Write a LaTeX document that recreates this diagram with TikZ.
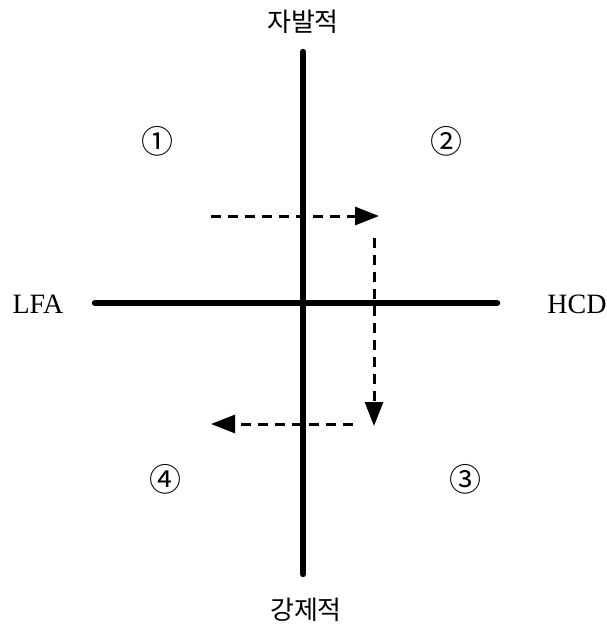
\documentclass[tikz,border=0pt]{standalone}
\usepackage{fontspec}
\setmainfont{Liberation Serif}
\newfontfamily\krfont{Noto Sans CJK KR}
\usetikzlibrary{arrows.meta}
\begin{document}
\begin{tikzpicture}[x=1pt,y=-1pt,
  axis/.style={line width=6.5pt,line cap=round},
  flow/.style={line width=3pt,dash pattern=on 10pt off 7pt,-{Triangle[length=24pt,width=18pt]}},
  lbl/.style={font=\fontsize{28}{30}\selectfont},
  kr/.style={font=\krfont\fontsize{26}{28}\selectfont},
  num/.style={font=\krfont\fontsize{32}{34}\selectfont}]
\useasboundingbox (0,0) rectangle (607,632);
\coordinate (vt) at (303,52);
\coordinate (vb) at (303,574);
\coordinate (hl) at (95,303);
\coordinate (hr) at (497,303);
\draw[axis] (vt) -- (vb);
\draw[axis] (hl) -- (hr);
\node[kr] (top) at (303,22) {자발적};
\node[kr] (bot) at (306,610) {강제적};
\node[lbl] (lfa) at (38,304) {LFA};
\node[lbl] (hcd) at (577,304) {HCD};
\node[num] (q1) at (157,141) {①};
\node[num] (q2) at (446,141) {②};
\node[num] (q3) at (465,479) {③};
\node[num] (q4) at (165,479) {④};
\coordinate (a1) at (211,216);
\coordinate (a2) at (379,216);
\coordinate (b1) at (374,238);
\coordinate (b2) at (374,426);
\coordinate (c1) at (353,424);
\coordinate (c2) at (211,424);
\draw[flow] (a1) -- (a2);
\draw[flow] (b1) -- (b2);
\draw[flow] (c1) -- (c2);
\end{tikzpicture}
\end{document}
